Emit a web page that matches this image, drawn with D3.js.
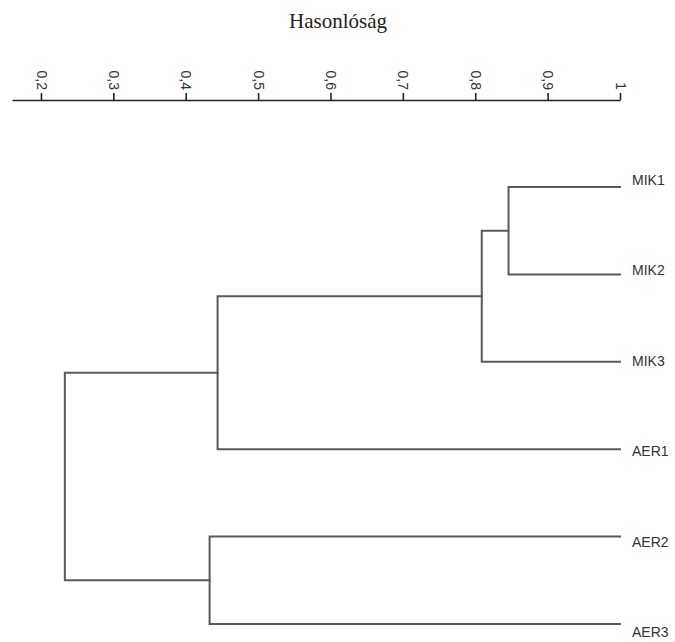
<!DOCTYPE html>
<html>
<head>
<meta charset="utf-8">
<script src="https://cdn.jsdelivr.net/npm/d3@7"></script>
<style>
  html, body { margin: 0; padding: 0; background: #fff; }
  svg { display: block; }
</style>
</head>
<body>
<svg id="chart" width="675" height="642"></svg>
<script>
// Leaves of the dendrogram, top to bottom
const leaves = ["MIK1", "MIK2", "MIK3", "AER1", "AER2", "AER3"];

// Agglomeration steps: cluster id, its two members, similarity at which they join
const mergeIds = ["c1", "c2", "c3", "c4", "c5"];
const mergeLeft = ["MIK1", "c1", "c2", "AER2", "c3"];
const mergeRight = ["MIK2", "MIK3", "AER1", "AER3", "c4"];
const mergeSim = [0.846, 0.809, 0.444, 0.433, 0.233];

// Axis ticks
const tickValues = [0.2, 0.3, 0.4, 0.5, 0.6, 0.7, 0.8, 0.9, 1];
const tickLabels = ["0,2", "0,3", "0,4", "0,5", "0,6", "0,7", "0,8", "0,9", "1"];

const svg = d3.select("#chart");

const x = d3.scaleLinear().domain([0.16, 1]).range([12, 620]);
const y = d3.scalePoint().domain(leaves).range([187, 624]);
const yLabel = d3.scalePoint().domain(leaves).range([180, 632]);

// Title
svg.append("text")
  .attr("x", 338).attr("y", 28)
  .attr("text-anchor", "middle")
  .attr("font-family", "'Liberation Serif', 'Times New Roman', serif")
  .attr("font-size", 21)
  .attr("fill", "#222")
  .text("Hasonlóság");

// Similarity axis along the top
const axis = d3.axisTop(x)
  .tickValues(tickValues)
  .tickFormat((d, i) => tickLabels[i])
  .tickSize(7)
  .tickSizeOuter(0);

const gAxis = svg.append("g")
  .attr("transform", "translate(0,100)")
  .call(axis);

gAxis.select(".domain").attr("stroke", "#222").attr("stroke-width", 1.6);
gAxis.selectAll(".tick line").attr("stroke", "#222").attr("stroke-width", 1.6);
gAxis.selectAll(".tick text")
  .attr("font-family", "'Liberation Sans', Arial, sans-serif")
  .attr("font-size", 14)
  .attr("fill", "#333")
  .attr("text-anchor", "end")
  .attr("transform", "rotate(90)")
  .attr("x", -10)
  .attr("y", 0)
  .attr("dy", "0.35em");

// Node positions: leaves sit at similarity 1, clusters at their join level
const pos = {};
leaves.forEach(name => { pos[name] = { x: x(1), y: y(name) }; });
mergeIds.forEach((id, i) => {
  const a = pos[mergeLeft[i]], b = pos[mergeRight[i]];
  pos[id] = { x: x(mergeSim[i]), y: (a.y + b.y) / 2, a, b };
});

const gTree = svg.append("g")
  .attr("fill", "none")
  .attr("stroke", "#5a5a5a")
  .attr("stroke-width", 2)
  .attr("stroke-linecap", "square");

mergeIds.forEach(id => {
  const n = pos[id];
  const path = d3.path();
  path.moveTo(n.a.x, n.a.y);
  path.lineTo(n.x, n.a.y);
  path.lineTo(n.x, n.b.y);
  path.lineTo(n.b.x, n.b.y);
  gTree.append("path").attr("d", path.toString());
});

// Leaf labels
svg.append("g")
  .selectAll("text")
  .data(leaves)
  .join("text")
  .attr("x", x(1) + 12)
  .attr("y", d => yLabel(d))
  .attr("dy", "0.35em")
  .attr("font-family", "'Liberation Sans', Arial, sans-serif")
  .attr("font-size", 14)
  .attr("fill", "#333")
  .text(d => d);
</script>
</body>
</html>
